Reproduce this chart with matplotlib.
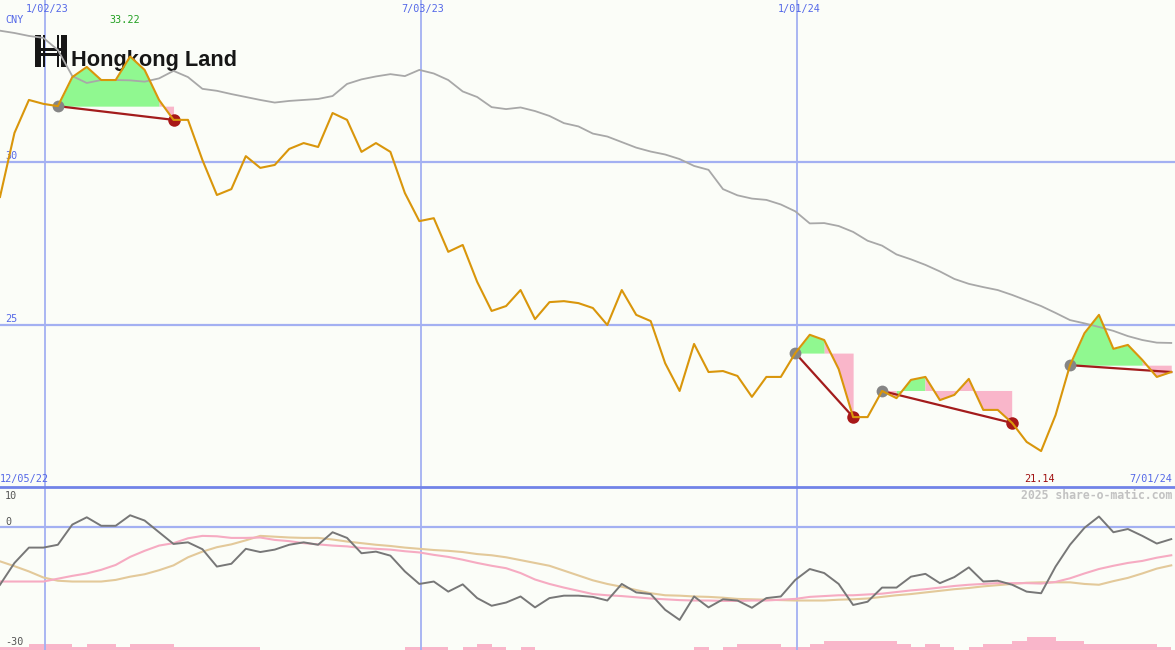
import matplotlib
matplotlib.use('Agg')
import matplotlib.pyplot as plt
import numpy as np
from matplotlib.patches import Rectangle
from matplotlib.transforms import blended_transform_factory

# weekly closes (CNY), first point sits on the left edge
price = [28.92, 30.88, 31.89, 31.77, 31.70, 32.59, 32.90, 32.50, 32.50, 33.22,
         32.81, 31.89, 31.28, 31.28, 30.05, 28.98, 29.16, 30.17, 29.81, 29.90,
         30.39, 30.57, 30.45, 31.49, 31.28, 30.30, 30.57, 30.30, 29.04, 28.18,
         28.27, 27.24, 27.45, 26.32, 25.43, 25.58, 26.07, 25.18, 25.70, 25.73,
         25.67, 25.52, 25.00, 26.07, 25.31, 25.12, 23.83, 22.98, 24.42, 23.56,
         23.59, 23.44, 22.80, 23.41, 23.41, 24.14, 24.70, 24.54, 23.65, 22.18,
         22.18, 22.98, 22.76, 23.32, 23.41, 22.70, 22.86, 23.35, 22.40, 22.40,
         22.00, 21.42, 21.14, 22.24, 23.77, 24.75, 25.31, 24.27, 24.39, 23.93,
         23.41, 23.56]

# long moving average (grey line)
ma_long = [34.01, 33.94, 33.85, 33.79, 33.42, 32.62, 32.41, 32.50, 32.50, 32.49,
           32.45, 32.55, 32.78, 32.59, 32.23, 32.17, 32.07, 31.98, 31.89, 31.81,
           31.86, 31.89, 31.92, 32.01, 32.38, 32.52, 32.61, 32.68, 32.62, 32.81,
           32.70, 32.50, 32.15, 31.98, 31.67, 31.61, 31.66, 31.55, 31.40, 31.18,
           31.08, 30.86, 30.77, 30.60, 30.43, 30.31, 30.22, 30.08, 29.87, 29.75,
           29.16, 28.97, 28.87, 28.83, 28.69, 28.48, 28.11, 28.12, 28.03, 27.85,
           27.58, 27.43, 27.16, 27.01, 26.84, 26.64, 26.41, 26.26, 26.16, 26.07,
           25.92, 25.75, 25.58, 25.37, 25.15, 25.05, 24.94, 24.82, 24.66, 24.54,
           24.46, 24.45]

# lower panel: momentum and its two averages
momentum = [-14.2, -8.8, -5.0, -5.0, -4.3, 0.7, 2.5, 0.4, 0.4, 3.0,
            1.7, -1.2, -4.1, -3.7, -5.4, -9.7, -9.0, -5.3, -6.1, -5.5,
            -4.3, -3.7, -4.3, -1.2, -2.6, -6.4, -6.0, -7.0, -10.9, -14.0,
            -13.4, -15.9, -14.1, -17.5, -19.4, -18.6, -17.1, -19.8, -17.5, -16.9,
            -16.9, -17.2, -18.1, -14.0, -16.1, -16.5, -20.4, -22.9, -17.1, -19.8,
            -17.8, -18.1, -19.9, -17.5, -17.1, -13.0, -10.3, -11.3, -14.0, -19.2,
            -18.4, -14.9, -14.9, -12.2, -11.5, -13.8, -12.3, -9.9, -13.4, -13.2,
            -14.2, -15.9, -16.3, -9.7, -4.3, -0.1, 2.7, -1.2, -0.4, -2.1,
            -4.0, -2.9]
mom_fast = [-13.4, -13.4, -13.4, -13.4, -12.7, -12.0, -11.4, -10.5, -9.3, -7.3,
            -5.8, -4.5, -3.9, -2.7, -2.1, -2.2, -2.6, -2.6, -2.5, -3.1,
            -3.4, -3.9, -4.2, -4.5, -4.7, -5.1, -5.3, -5.5, -5.9, -6.2,
            -6.8, -7.3, -8.0, -8.8, -9.5, -10.1, -11.3, -12.9, -14.0, -14.9,
            -15.7, -16.5, -16.8, -17.0, -17.3, -17.6, -17.8, -18.0, -18.1, -18.1,
            -18.2, -18.2, -18.1, -18.1, -17.9, -17.7, -17.2, -17.0, -16.8, -16.8,
            -16.6, -16.4, -16.0, -15.6, -15.3, -14.9, -14.5, -14.2, -14.0, -13.8,
            -13.8, -13.8, -13.9, -13.5, -12.6, -11.4, -10.3, -9.5, -8.8, -8.3,
            -7.5, -6.9]
mom_slow = [-8.4, -9.6, -10.9, -12.4, -13.2, -13.4, -13.4, -13.4, -13.0, -12.2,
            -11.6, -10.6, -9.4, -7.4, -6.0, -4.9, -4.2, -3.2, -2.1, -2.3,
            -2.5, -2.6, -2.6, -3.0, -3.5, -3.9, -4.3, -4.6, -5.0, -5.3,
            -5.6, -5.8, -6.1, -6.6, -6.9, -7.4, -8.1, -8.8, -9.5, -10.7,
            -11.9, -13.1, -14.0, -14.7, -15.5, -16.3, -16.8, -16.9, -17.1, -17.2,
            -17.4, -17.7, -17.8, -17.9, -18.0, -18.1, -18.1, -18.1, -17.9, -17.8,
            -17.6, -17.2, -16.8, -16.5, -16.1, -15.7, -15.3, -15.0, -14.6, -14.3,
            -14.0, -13.7, -13.6, -13.6, -13.6, -14.0, -14.2, -13.3, -12.5, -11.4,
            -10.2, -9.4]

# volume blocks (one per week)
volume = [1, 1, 2, 2, 2, 1, 2, 2, 1, 2, 2, 2, 1, 1, 1, 1, 1, 1, 0, 0,
          0, 0, 0, 0, 0, 0, 0, 0, 1, 1, 1, 0, 1, 2, 1, 0, 1, 0, 0, 0,
          0, 0, 0, 0, 0, 0, 0, 0, 1, 0, 1, 2, 2, 2, 1, 1, 2, 3, 3, 3,
          3, 3, 2, 1, 2, 1, 0, 1, 2, 2, 3, 4, 4, 3, 3, 2, 2, 2, 2, 2, 1]

# buy signal -> sell signal (week indexes); last one still open
signals = [(4, 12), (55, 59), (61, 70), (74, 81)]
closed = [True, True, True, False]

date_ticks = [3.11, 29.11, 55.12]
date_labels = ['1/02/23', '7/03/23', '1/01/24']
price_lines = [30, 25]

W, H = 1175, 650
bg = '#fbfdf8'
grid_c = '#a3b0f2'
blue_txt = '#5468e8'
mono = 'DejaVu Sans Mono'

fig = plt.figure(figsize=(W / 100, H / 100), dpi=100, facecolor=bg)
ax = fig.add_axes([0, 163 / H, 1, 487 / H], facecolor=bg)
axl = fig.add_axes([0, 0, 1, 163 / H], facecolor=bg)

x = np.arange(len(price))
p = np.array(price)

# ---- main panel
for t in date_ticks:
    ax.axvline(t, color=grid_c, lw=1.3, zorder=1)
for v in price_lines:
    ax.axhline(v, color=grid_c, lw=1.6, zorder=1)

for (s, e), done in zip(signals, closed):
    lvl = p[s]
    xs, ps = x[s:e + 1], p[s:e + 1]
    n = len(xs)
    up = np.zeros(n, bool)
    dn = np.zeros(n, bool)
    for k in range(n):
        if k > 0:
            up[k] |= ps[k] > lvl
            dn[k] |= ps[k] < lvl
        if k < n - 1:
            up[k] |= ps[k + 1] > lvl
            dn[k] |= ps[k + 1] < lvl
    ax.fill_between(xs, ps, lvl, where=up, color='#90f890', lw=0, zorder=2)
    ax.fill_between(xs, ps, lvl, where=dn, color='#f9b6ca', lw=0, zorder=2)

ax.plot(x, ma_long, color='#a8a8a8', lw=1.3, zorder=3)

for (s, e), done in zip(signals, closed):
    ax.plot([x[s], x[e]], [p[s], p[e]], color='#a31c1c', lw=1.6, zorder=4)
    ax.plot(x[s], p[s], 'o', color='#858585', ms=8.5, mec='none', zorder=5)
    if done:
        ax.plot(x[e], p[e], 'o', color='#a81818', ms=9, mec='none', zorder=5)

ax.plot(x, price, color='#d9960b', lw=1.5, zorder=6)

ax.set_xlim(0, 81.26)
ax.set_ylim(20.04, 34.95)
ax.axis('off')

# logo (sits under the lines)
def logo_rect(x0, y0, w, h):
    ax.add_patch(Rectangle((x0 / W, 1 - (y0 + h) / H), w / W, h / H,
                           transform=fig.transFigure, color='#161616', lw=0, zorder=1.5))

logo_rect(35, 35, 6, 32)
logo_rect(61, 35, 6, 32)
logo_rect(43, 35, 2, 32)
logo_rect(57, 35, 2, 32)
logo_rect(35, 48, 32, 3)
logo_rect(35, 53, 32, 3)
ax.text(71 / W, 1 - 66 / H, 'Hongkong Land', transform=fig.transFigure,
        fontsize=15.7, fontweight='bold', family='Liberation Sans', color='#161616',
        va='baseline', ha='left', zorder=1.5)

tx = blended_transform_factory(ax.transData, ax.transAxes)
for t, lab in zip(date_ticks, date_labels):
    ax.text(t + 0.15, 0.9815, lab, transform=tx, ha='center', va='center',
            fontsize=7.3, family=mono, color=blue_txt)
ax.text(5 / W, 0.959, 'CNY', transform=ax.transAxes, ha='left', va='center',
        fontsize=7.3, family=mono, color=blue_txt)
imax, imin = int(np.argmax(p)), int(np.argmin(p))
ax.text(imax - 0.4, 0.959, f'{p[imax]:.2f}', transform=tx, ha='center', va='center',
        fontsize=7.3, family=mono, color='#22a022')
ax.text(imin - 0.1, 0.0164, f'{p[imin]:.2f}', transform=tx, ha='center', va='center',
        fontsize=7.3, family=mono, color='#a01010')
for v in price_lines:
    ax.text(0.35, v + 0.17, str(v), ha='left', va='center',
            fontsize=7.3, family=mono, color=blue_txt)
ax.text(0.0, 0.0164, '12/05/22', transform=ax.transAxes, ha='left', va='center',
        fontsize=7.3, family=mono, color=blue_txt)
ax.text(1172 / W, 0.0164, '7/01/24', transform=ax.transAxes, ha='right', va='center',
        fontsize=7.3, family=mono, color=blue_txt)

# ---- lower panel
axv = axl.twinx()
axv.bar(np.arange(len(volume)), volume, width=1, align='edge', color='#f9b6ca', lw=0)
axv.set_ylim(0, 52)
axv.set_xlim(0, 81.26)
axv.axis('off')
axl.set_zorder(axv.get_zorder() + 1)
axl.patch.set_visible(False)
axv.patch.set_visible(True)
axv.patch.set_facecolor(bg)

for t in date_ticks:
    axl.axvline(t, color=grid_c, lw=1.3, zorder=1)
axl.axhline(0, color=grid_c, lw=1.6, zorder=1)
axl.plot(x, mom_slow, color='#e3c99a', lw=1.5, zorder=2)
axl.plot(x, mom_fast, color='#f6abc2', lw=1.5, zorder=3)
axl.plot(x, momentum, color='#777777', lw=1.4, zorder=4)
axl.set_xlim(0, 81.26)
axl.set_ylim(-30.35, 10)
axl.set_xticks([])
axl.set_yticks([])
for sp in ['left', 'right', 'bottom']:
    axl.spines[sp].set_visible(False)
axl.spines['top'].set_color('#7183e8')
axl.spines['top'].set_linewidth(2.0)

for lab, yf in [('10', 0.945), ('0', 0.785), ('-30', 0.049)]:
    axl.text(5 / W, yf, lab, transform=axl.transAxes, ha='left', va='center',
             fontsize=7.3, family=mono, color='#555555')
axl.text(1172 / W, 0.945, '2025 share-o-matic.com', transform=axl.transAxes,
         ha='right', va='center', fontsize=8.3, family=mono, color='#c2c2c2',
         fontweight='bold')

fig.savefig('out.png', dpi=100, facecolor=bg)
